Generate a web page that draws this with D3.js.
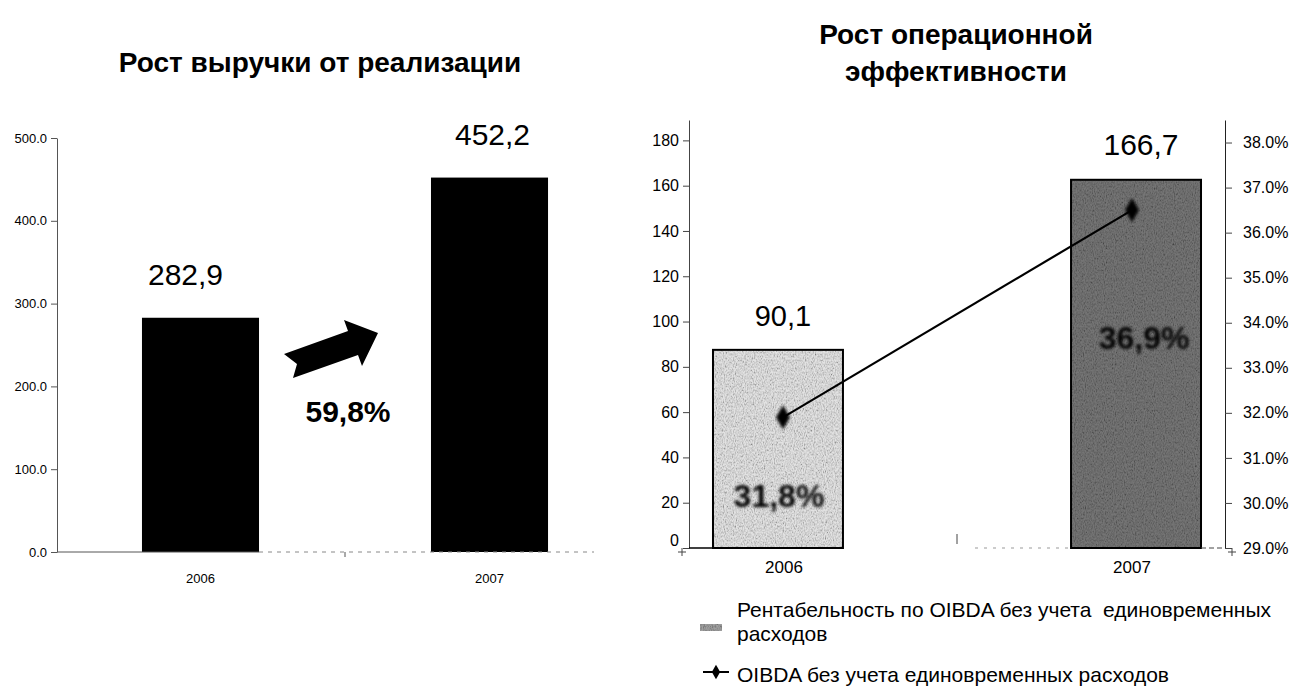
<!DOCTYPE html>
<html>
<head>
<meta charset="utf-8">
<script src="https://cdn.jsdelivr.net/npm/d3@7"></script>
<style>
  body { margin: 0; background: #fff; }
  svg { display: block; font-family: Arial, "Liberation Sans", sans-serif; }
  .title { font-weight: bold; font-size: 28px; }
</style>
</head>
<body>
<div id="chart"></div>
<script>
// Data
const years = ["2006", "2007"];
const revenue = [282.9, 452.2];
const revenueLabels = ["282,9", "452,2"];
const growthLabel = "59,8%";
const revenueTicks = [0, 100, 200, 300, 400, 500];

const oibdaBars = [87.5, 162.6];
const oibdaLabels = ["90,1", "166,7"];
const margin = [31.9, 36.5];
const marginLabels = ["31,8%", "36,9%"];
const leftTicks = [0, 20, 40, 60, 80, 100, 120, 140, 160, 180];
const rightTicks = [29, 30, 31, 32, 33, 34, 35, 36, 37, 38];
const legendBar = ["Рентабельность по OIBDA без учета  единовременных", "расходов"];
const legendLine = "OIBDA без учета единовременных расходов";

const W = 1298, H = 688;
const narrow = "'Liberation Sans Narrow', 'Arial Narrow', Arial, sans-serif";
const svg = d3.select("#chart").append("svg")
  .attr("width", W)
  .attr("height", H);

// filters: grain for textured bars, blur for smudged labels
const defs = svg.append("defs");
const grain = defs.append("filter").attr("id", "grain").attr("x", 0).attr("y", 0).attr("width", 1).attr("height", 1);
grain.append("feTurbulence").attr("type", "fractalNoise").attr("baseFrequency", "0.9 0.5")
  .attr("numOctaves", 2).attr("seed", 4).attr("result", "noise");
grain.append("feColorMatrix").attr("in", "noise").attr("type", "saturate").attr("values", 0).attr("result", "gray");
const ct = grain.append("feComponentTransfer").attr("in", "gray").attr("result", "contrast");
["feFuncR", "feFuncG", "feFuncB"].forEach(f =>
  ct.append(f).attr("type", "linear").attr("slope", 2.6).attr("intercept", -0.6));
grain.append("feBlend").attr("in", "SourceGraphic").attr("in2", "contrast").attr("mode", "multiply").attr("result", "mix");
grain.append("feComposite").attr("in", "mix").attr("in2", "SourceGraphic").attr("operator", "in");

defs.append("filter").attr("id", "smudge").attr("x", "-20%").attr("y", "-40%").attr("width", "140%").attr("height", "180%")
  .append("feGaussianBlur").attr("stdDeviation", 1.8);

// ----- Left chart: revenue -----
svg.append("text")
  .attr("class", "title")
  .attr("x", 320).attr("y", 72)
  .attr("text-anchor", "middle")
  .text("Рост выручки от реализации");

const x1 = d3.scaleBand().domain(years).range([57, 633]).paddingInner(0.595).paddingOuter(0.294);
const y1 = d3.scaleLinear().domain([0, 500]).range([552, 138]);

const left = svg.append("g");

left.selectAll(".rev")
  .data(revenue)
  .enter()
  .append("rect")
  .attr("class", "rev")
  .attr("x", (d, i) => x1(years[i]))
  .attr("y", d => y1(d))
  .attr("width", x1.bandwidth())
  .attr("height", d => y1(0) - y1(d))
  .attr("fill", "#000");

left.selectAll(".revlab")
  .data(revenue)
  .enter()
  .append("text")
  .attr("x", (d, i) => x1(years[i]) + x1.bandwidth() / 2 + (i === 0 ? -15 : 3))
  .attr("y", d => y1(d) - 33)
  .attr("text-anchor", "middle")
  .attr("font-size", "30px")
  .text((d, i) => revenueLabels[i]);

// y axis
const ay1 = left.append("g")
  .attr("transform", "translate(57,0)")
  .call(d3.axisLeft(y1).tickValues(revenueTicks).tickFormat(d3.format(".1f")).tickSize(6).tickSizeOuter(0));
ay1.select(".domain").attr("stroke", "#555");
ay1.selectAll(".tick line").attr("stroke", "#555");
ay1.selectAll("text")
  .attr("font-family", narrow)
  .attr("font-size", "13px").attr("fill", "#000").attr("dx", "-1px");

// baseline
const base1 = y1(0);
left.append("line").attr("x1", 57).attr("x2", x1(years[0]) + x1.bandwidth())
  .attr("y1", base1).attr("y2", base1).attr("stroke", "#555");
left.append("line").attr("x1", x1(years[0]) + x1.bandwidth()).attr("x2", 594)
  .attr("y1", base1).attr("y2", base1).attr("stroke", "#888").attr("stroke-dasharray", "4,5");
const mid1 = (x1(years[0]) + x1.bandwidth() + x1(years[1])) / 2;
left.append("line").attr("x1", mid1).attr("x2", mid1).attr("y1", base1).attr("y2", base1 + 5).attr("stroke", "#555");

left.selectAll(".cat1")
  .data(years)
  .enter()
  .append("text")
  .attr("x", d => x1(d) + x1.bandwidth() / 2)
  .attr("y", 583)
  .attr("text-anchor", "middle")
  .attr("font-family", narrow)
  .attr("font-size", "13px")
  .text(d => d);

// growth arrow
left.append("path")
  .attr("d", "M284,354 L348,331 L344,320 L378,333 L362,366 L358,355 L293,378 L297,364 Z")
  .attr("fill", "#000");
left.append("text")
  .attr("x", 348).attr("y", 422)
  .attr("text-anchor", "middle")
  .attr("font-weight", "bold")
  .attr("font-size", "30px")
  .text(growthLabel);

// ----- Right chart: OIBDA -----
svg.append("text").attr("class", "title")
  .attr("x", 956).attr("y", 44).attr("text-anchor", "middle")
  .text("Рост операционной");
svg.append("text").attr("class", "title")
  .attr("x", 956).attr("y", 81).attr("text-anchor", "middle")
  .text("эффективности");

const x2 = d3.scaleBand().domain(years).range([689, 1225]).paddingInner(0.637).paddingOuter(0.067);
const y2 = d3.scaleLinear().domain([0, 189]).range([548, 120]);
const y3 = d3.scaleLinear().domain([29, 38.5]).range([548, 120]);
const barFill = ["#e2e2e2", "#747474"];

const right = svg.append("g");

right.selectAll(".oibda")
  .data(oibdaBars)
  .enter()
  .append("rect")
  .attr("class", "oibda")
  .attr("x", (d, i) => x2(years[i]))
  .attr("y", d => y2(d))
  .attr("width", x2.bandwidth())
  .attr("height", d => y2(0) - y2(d))
  .attr("fill", (d, i) => barFill[i])
  .attr("filter", "url(#grain)");

right.selectAll(".oibda-edge")
  .data(oibdaBars)
  .enter()
  .append("rect")
  .attr("x", (d, i) => x2(years[i]))
  .attr("y", d => y2(d))
  .attr("width", x2.bandwidth())
  .attr("height", d => y2(0) - y2(d))
  .attr("fill", "none")
  .attr("stroke", "#000")
  .attr("stroke-width", 2);

right.selectAll(".oibdalab")
  .data(oibdaBars)
  .enter()
  .append("text")
  .attr("x", (d, i) => x2(years[i]) + x2.bandwidth() / 2 + 5)
  .attr("y", (d, i) => i === 0 ? 326 : 155)
  .attr("text-anchor", "middle")
  .attr("font-size", (d, i) => i === 0 ? "29px" : "30px")
  .text((d, i) => oibdaLabels[i]);

// smudged margin labels inside bars
const marginLabelY = [30.1, 33.6];
right.selectAll(".mlab")
  .data(marginLabels)
  .enter()
  .append("text")
  .attr("x", (d, i) => x2(years[i]) + x2.bandwidth() / 2 + (i === 0 ? 1 : 8))
  .attr("y", (d, i) => y3(marginLabelY[i]))
  .attr("dominant-baseline", "middle")
  .attr("text-anchor", "middle")
  .attr("font-weight", "bold")
  .attr("font-size", "32px")
  .attr("fill", "#000")
  .attr("filter", "url(#smudge)")
  .text(d => d);

// margin line
const lineX = [783, 1132];
const lineGen = d3.line().x((d, i) => lineX[i]).y(d => y3(d));
right.append("path")
  .datum(margin)
  .attr("d", lineGen)
  .attr("fill", "none")
  .attr("stroke", "#000")
  .attr("stroke-width", 2.2);
right.selectAll(".pt")
  .data(margin)
  .enter()
  .append("path")
  .attr("d", d3.symbol(d3.symbolDiamond, 170))
  .attr("transform", (d, i) => `translate(${lineX[i]},${y3(d)})`)
  .attr("fill", "#000")
  .attr("filter", "url(#smudge)");

// left axis
const ay2 = right.append("g")
  .attr("transform", "translate(689,0)")
  .call(d3.axisLeft(y2).tickValues(leftTicks).tickSize(6).tickSizeOuter(0));
ay2.select(".domain").attr("stroke", "#444");
ay2.selectAll(".tick line").attr("stroke", "#444");
ay2.selectAll("text").attr("font-size", "16px").attr("fill", "#000").attr("dx", "-1px");
ay2.selectAll(".tick").filter(d => d === 0).select("text").attr("dy", "-0.15em");

// right axis
const ay3 = right.append("g")
  .attr("transform", "translate(1225,0)")
  .call(d3.axisRight(y3).tickValues(rightTicks).tickFormat(d => d3.format(".1f")(d) + "%").tickSize(7).tickSizeOuter(0));
ay3.select(".domain").attr("stroke", "#222");
ay3.selectAll(".tick line").attr("stroke", "#444");
ay3.selectAll("text").attr("font-size", "16px").attr("fill", "#000").attr("dx", "8px");

// baseline with "+" markers at the ends
const base2 = y2(0);
right.append("line").attr("x1", 689).attr("x2", x2(years[0]) + x2.bandwidth())
  .attr("y1", base2).attr("y2", base2).attr("stroke", "#000").attr("stroke-width", 1.5);
right.append("line").attr("x1", 975).attr("x2", x2(years[1]))
  .attr("y1", base2).attr("y2", base2).attr("stroke", "#999").attr("stroke-dasharray", "3,6");
right.append("line").attr("x1", x2(years[1]) + x2.bandwidth()).attr("x2", 1225)
  .attr("y1", base2).attr("y2", base2).attr("stroke", "#444").attr("stroke-dasharray", "5,3");
const mid2 = (689 + 1225) / 2;
right.append("line").attr("x1", mid2).attr("x2", mid2).attr("y1", base2 - 14).attr("y2", base2 - 4).attr("stroke", "#444");
[682, 1232].forEach(px => {
  right.append("line").attr("x1", px).attr("x2", px).attr("y1", base2).attr("y2", base2 + 8).attr("stroke", "#444");
  right.append("line").attr("x1", px - 4).attr("x2", px + 4).attr("y1", base2 + 4).attr("y2", base2 + 4).attr("stroke", "#444");
});

right.selectAll(".cat2")
  .data(years)
  .enter()
  .append("text")
  .attr("x", d => x2(d) + x2.bandwidth() / 2 + (d === "2006" ? 6 : -4))
  .attr("y", 573)
  .attr("text-anchor", "middle")
  .attr("font-size", "17px")
  .text(d => d);

// legend
const legend = svg.append("g");
legend.append("rect")
  .attr("x", 700).attr("y", 624).attr("width", 22).attr("height", 7)
  .attr("fill", "#a0a0a0").attr("filter", "url(#grain)");
legend.append("line")
  .attr("x1", 703).attr("x2", 729).attr("y1", 672).attr("y2", 672)
  .attr("stroke", "#000").attr("stroke-width", 2);
legend.append("path")
  .attr("d", d3.symbol(d3.symbolDiamond, 60))
  .attr("transform", "translate(716,672)")
  .attr("fill", "#000");

legend.selectAll(".lgb")
  .data(legendBar)
  .enter()
  .append("text")
  .attr("x", 737)
  .attr("y", (d, i) => 617 + i * 24)
  .attr("font-size", "21px")
  .attr("xml:space", "preserve")
  .style("white-space", "pre")
  .text(d => d);
legend.append("text")
  .attr("x", 737).attr("y", 682)
  .attr("font-size", "21px")
  .text(legendLine);
</script>
</body>
</html>
